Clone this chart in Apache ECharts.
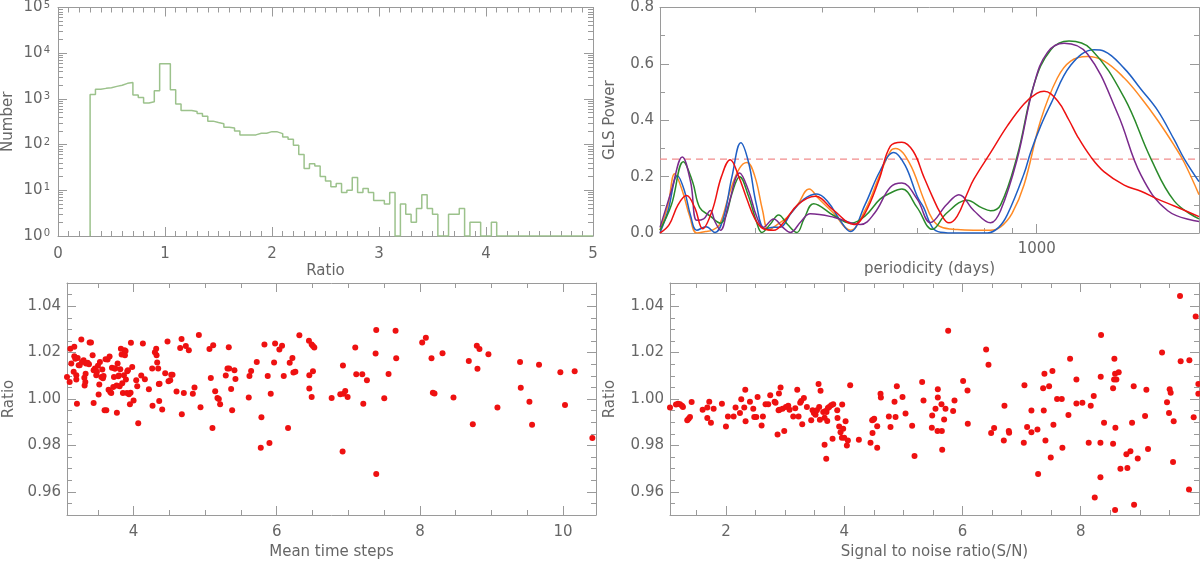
<!DOCTYPE html>
<html><head><meta charset="utf-8">
<script src="https://cdn.jsdelivr.net/npm/echarts@6/dist/echarts.min.js"></script>
<style>html,body{margin:0;padding:0;background:#fff}#c{width:1200px;height:562px}</style>
</head><body><div id="c"></div>
<script>
// ---------------- data ----------------
const binEdges = [0.30,0.35,0.40,0.45,0.50,0.55,0.60,0.65,0.70,0.75,0.80,0.85,0.90,0.95,1.00,1.05,1.10,1.15,1.20,1.25,1.30,1.35,1.40,1.45,1.50,1.55,1.60,1.65,1.70,1.75,1.80,1.85,1.90,1.95,2.00,2.05,2.10,2.15,2.20,2.25,2.30,2.35,2.40,2.45,2.50,2.55,2.60,2.65,2.70,2.75,2.80,2.85,2.90,2.95,3.00,3.05,3.10,3.15,3.20,3.25,3.30,3.35,3.40,3.45,3.50,3.55,3.60,3.65,3.70,3.75,3.80,3.85,3.90,3.95,4.00,4.05,4.10,4.15,4.20,4.25,4.30,4.35,4.40,4.45,4.50,4.55,4.60,4.65,4.70,4.75,4.80,4.85,4.90,4.95,5.00];
const binCounts = [1245,1630,1700,1760,1880,1990,2190,2290,1210,1070,810,870,1510,5900,5900,1590,770,560,560,530,477,418,326,305,287,241,230,199,163,162,163,177,177,192,190,174,147,131,97,61,30,38,34,20,16,12,14,9,10,19,9,11,9,6,6,5,9,0,5,3,2,4,8,4,3,0,0,3,3,4,0,2,2,0,0,2,0,0,0,0,0,0,0,0,0,0,0,0,0,0,0,0,0,0];

const glsThreshold = 0.262;
const glsPeriodRange = [200, 2000];
const glsRed = [[200,0.0],[208,0.03],[216,0.10],[224,0.133],[232,0.09],[240,0.015],[250,0.08],[260,0.20],[270,0.26],[280,0.20],[290,0.12],[300,0.05],[311,0.015],[325,0.01],[340,0.04],[360,0.10],[388,0.13],[420,0.08],[458,0.03],[480,0.07],[510,0.19],[535,0.308],[562,0.322],[590,0.29],[617,0.20],[640,0.13],[663,0.07],[687,0.036],[712,0.06],[743,0.14],[764,0.19],[821,0.285],[882,0.38],[947,0.458],[1000,0.495],[1032,0.503],[1092,0.47],[1148,0.40],[1190,0.343],[1260,0.27],[1334,0.217],[1453,0.17],[1561,0.148],[1676,0.12],[1800,0.096],[2000,0.058]];
const glsOrange = [[200,0.01],[207,0.10],[213,0.21],[220,0.15],[227,0.06],[234,0.0],[243,0.005],[250,0.01],[258,0.03],[270,0.15],[281,0.23],[290,0.25],[300,0.20],[310,0.08],[318,0.01],[330,0.03],[344,0.055],[360,0.10],[378,0.156],[395,0.12],[420,0.07],[451,0.01],[480,0.08],[510,0.20],[535,0.29],[547,0.30],[580,0.25],[617,0.12],[640,0.05],[663,0.022],[712,0.012],[764,0.01],[821,0.01],[857,0.022],[900,0.07],[947,0.17],[1017,0.40],[1092,0.55],[1156,0.61],[1242,0.626],[1334,0.61],[1453,0.55],[1561,0.48],[1676,0.40],[1800,0.31],[1878,0.25],[2000,0.136]];
const glsBlue = [[200,0.0],[207,0.08],[215.5,0.203],[222,0.15],[228,0.06],[234,0.01],[243.5,0.022],[253,0.002],[262,0.05],[272,0.20],[282.5,0.32],[292,0.25],[302,0.10],[313,0.015],[325,0.02],[334,0.02],[350,0.07],[370,0.12],[391,0.138],[410,0.11],[430,0.05],[451,0.005],[480,0.10],[512,0.22],[543,0.286],[570,0.24],[600,0.13],[617,0.09],[640,0.02],[663,0.003],[712,0.0],[810,0.0],[850,0.02],[882,0.065],[947,0.21],[974,0.286],[1017,0.38],[1062,0.458],[1156,0.595],[1278,0.65],[1334,0.645],[1453,0.584],[1561,0.51],[1676,0.435],[1800,0.33],[1878,0.263],[2000,0.182]];
const glsGreen = [[200,0.01],[210,0.10],[221,0.253],[230,0.18],[237,0.09],[248,0.06],[259,0.035],[265,0.06],[272,0.14],[281,0.20],[292,0.13],[302,0.04],[309,0.002],[320,0.03],[332,0.064],[345,0.03],[359,0.002],[370,0.05],[385.5,0.104],[420,0.062],[451,0.035],[480,0.06],[512,0.12],[535,0.142],[562,0.156],[600,0.09],[640,0.013],[680,0.07],[743,0.116],[790,0.09],[821,0.079],[857,0.10],[920,0.274],[988,0.526],[1062,0.65],[1148,0.681],[1260,0.653],[1453,0.48],[1629,0.263],[1800,0.113],[2000,0.05]];
const glsPurple = [[200,0.02],[210,0.15],[220,0.27],[228,0.18],[234,0.045],[241,0.05],[248,0.08],[253,0.04],[259,0.01],[268,0.10],[281,0.213],[292,0.15],[302,0.06],[311,0.02],[325,0.05],[338,0.02],[349,0.002],[365,0.04],[380,0.068],[420,0.056],[471,0.03],[500,0.07],[535,0.162],[562,0.177],[600,0.12],[635,0.037],[680,0.10],[717,0.136],[764,0.08],[821,0.036],[857,0.08],[920,0.263],[988,0.526],[1047,0.641],[1124,0.673],[1242,0.635],[1413,0.423],[1561,0.205],[1750,0.079],[2000,0.041]];

const stepsRatio = [[3.070,1.0095],[3.107,1.0073],[3.116,1.0217],[3.130,1.0153],[3.163,1.0117],[3.172,1.0225],[3.172,1.0184],[3.186,1.0174],[3.200,1.0084],[3.200,1.0102],[3.209,0.9980],[3.219,1.0177],[3.233,1.0145],[3.247,1.0145],[3.270,1.0256],[3.279,1.0160],[3.302,1.0167],[3.312,1.0092],[3.316,1.0058],[3.326,1.0073],[3.330,1.0109],[3.335,1.0153],[3.358,1.0156],[3.377,1.0150],[3.386,1.0243],[3.405,1.0243],[3.428,1.0189],[3.442,0.9983],[3.442,1.0124],[3.460,1.0131],[3.479,1.0102],[3.488,1.0117],[3.502,1.0143],[3.512,1.0019],[3.521,1.0062],[3.530,1.0160],[3.549,1.0095],[3.563,1.0127],[3.572,1.0089],[3.581,1.0099],[3.595,0.9951],[3.619,0.9951],[3.609,1.0171],[3.637,1.0170],[3.651,1.0040],[3.665,1.0183],[3.674,1.0030],[3.688,1.0026],[3.698,1.0135],[3.716,1.0052],[3.726,1.0095],[3.735,1.0132],[3.744,1.0131],[3.763,1.0058],[3.767,0.9941],[3.777,1.0153],[3.786,1.0098],[3.795,1.0101],[3.805,1.0055],[3.814,1.0128],[3.823,1.0217],[3.833,1.0192],[3.842,1.0068],[3.851,1.0026],[3.865,1.0102],[3.874,1.0210],[3.879,1.0189],[3.888,1.0207],[3.893,1.0084],[3.907,1.0026],[3.912,1.0120],[3.921,1.0124],[3.935,1.0020],[3.949,0.9977],[3.958,1.0027],[3.963,1.0242],[3.981,1.0138],[4.000,0.9993],[4.037,1.0081],[4.051,1.0055],[4.065,0.9896],[4.107,1.0101],[4.130,1.0239],[4.158,1.0085],[4.214,1.0042],[4.260,1.0131],[4.265,0.9971],[4.298,1.0202],[4.316,1.0217],[4.321,1.0189],[4.330,1.0157],[4.344,1.0131],[4.353,1.0065],[4.358,0.9991],[4.363,1.0066],[4.400,0.9955],[4.442,1.0111],[4.474,1.0248],[4.488,1.0076],[4.512,1.0081],[4.526,1.0104],[4.544,1.0105],[4.600,1.0032],[4.651,1.0220],[4.670,1.0259],[4.674,0.9934],[4.702,1.0026],[4.730,1.0228],[4.772,1.0210],[4.828,1.0023],[4.851,1.0050],[4.912,1.0276],[4.935,0.9964],[5.060,1.0215],[5.079,1.0091],[5.102,0.9875],[5.112,1.0232],[5.140,1.0033],[5.172,1.0004],[5.191,1.0000],[5.209,0.9977],[5.288,1.0101],[5.312,1.0132],[5.330,1.0223],[5.335,1.0131],[5.363,1.0043],[5.377,0.9951],[5.409,1.0124],[5.423,1.0086],[5.609,1.0006],[5.619,1.0099],[5.642,1.0121],[5.721,1.0160],[5.777,0.9790],[5.786,0.9921],[5.828,1.0235],[5.874,1.0099],[5.898,0.9810],[5.916,1.0023],[5.963,1.0157],[5.977,1.0239],[6.037,1.0213],[6.074,1.0230],[6.098,1.0099],[6.158,0.9875],[6.181,1.0156],[6.219,1.0177],[6.233,1.0114],[6.260,1.0117],[6.316,1.0275],[6.450,1.0251],[6.455,1.0102],[6.455,1.0045],[6.488,1.0235],[6.488,1.0009],[6.506,1.0120],[6.506,1.0228],[6.525,1.0222],[6.767,1.0004],[6.888,1.0020],[6.925,1.0144],[6.934,1.0023],[6.957,1.0035],[6.920,0.9774],[6.990,1.0009],[7.097,1.0222],[7.111,1.0107],[7.195,1.0107],[7.209,0.9980],[7.260,1.0081],[7.381,1.0196],[7.390,1.0297],[7.390,0.9677],[7.502,1.0003],[7.562,1.0108],[7.660,1.0294],[7.669,1.0176],[8.032,1.0243],[8.083,1.0264],[8.162,1.0176],[8.181,1.0027],[8.204,1.0024],[8.316,1.0197],[8.469,1.0007],[8.683,1.0164],[8.739,0.9891],[8.795,1.0230],[8.804,1.0130],[8.832,1.0215],[8.957,1.0193],[9.083,0.9963],[9.399,1.0160],[9.409,1.0048],[9.530,0.9988],[9.567,0.9889],[9.664,1.0148],[9.962,1.0115],[10.027,0.9974],[10.162,1.0120],[10.409,0.9832]];

const snrRatio = [[1.054,0.9963],[1.155,0.9976],[1.189,0.9980],[1.223,0.9977],[1.256,0.9971],[1.273,0.9965],[1.346,0.9908],[1.369,0.9915],[1.392,0.9922],[1.420,0.9987],[1.606,0.9954],[1.685,0.9963],[1.685,0.9918],[1.718,0.9988],[1.746,0.9898],[1.792,0.9958],[1.932,0.9980],[2.000,0.9882],[2.034,0.9925],[2.130,0.9925],[2.163,0.9963],[2.237,0.9940],[2.259,0.9999],[2.310,0.9963],[2.327,1.0040],[2.332,0.9904],[2.406,0.9988],[2.462,0.9958],[2.479,0.9922],[2.513,0.9922],[2.535,1.0009],[2.603,0.9886],[2.625,0.9925],[2.670,0.9977],[2.715,0.9977],[2.749,1.0016],[2.823,0.9988],[2.839,0.9984],[2.873,0.9847],[2.890,0.9951],[2.896,1.0024],[2.907,0.9954],[2.924,1.0050],[2.958,0.9958],[2.986,0.9862],[3.014,0.9965],[3.054,0.9971],[3.076,0.9954],[3.138,0.9925],[3.172,0.9960],[3.206,1.0040],[3.228,0.9925],[3.256,0.9984],[3.273,0.9991],[3.290,0.9891],[3.318,1.0004],[3.369,0.9965],[3.442,0.9908],[3.465,0.9951],[3.487,0.9940],[3.515,0.9932],[3.538,0.9951],[3.566,1.0065],[3.577,0.9965],[3.589,0.9911],[3.600,1.0036],[3.645,0.9944],[3.668,0.9803],[3.668,0.9919],[3.685,0.9948],[3.696,0.9742],[3.701,0.9944],[3.713,0.9905],[3.724,0.9961],[3.746,0.9965],[3.780,0.9973],[3.803,0.9829],[3.814,0.9977],[3.882,0.9951],[3.887,0.9918],[3.915,0.9882],[3.938,0.9857],[3.961,0.9833],[3.966,0.9976],[3.983,0.9872],[4.000,0.9833],[4.023,0.9904],[4.045,0.9800],[4.062,0.9821],[4.101,1.0059],[4.248,0.9824],[4.445,0.9811],[4.473,0.9908],[4.479,0.9853],[4.490,0.9911],[4.507,0.9915],[4.558,0.9883],[4.558,0.9790],[4.614,1.0023],[4.620,1.0006],[4.755,0.9925],[4.783,0.9879],[4.851,0.9988],[4.868,0.9922],[4.890,1.0055],[4.986,1.0009],[5.037,0.9937],[5.149,0.9885],[5.189,0.9754],[5.318,1.0073],[5.341,0.9994],[5.482,0.9876],[5.488,0.9929],[5.544,0.9958],[5.583,1.0042],[5.583,1.0006],[5.578,0.9862],[5.645,0.9977],[5.651,0.9862],[5.657,0.9781],[5.690,0.9912],[5.713,0.9958],[5.758,1.0294],[5.842,0.9948],[5.865,0.9994],[6.011,1.0078],[6.085,1.0037],[6.090,0.9893],[6.400,1.0213],[6.440,1.0148],[6.485,0.9853],[6.535,0.9875],[6.699,0.9821],[6.710,0.9971],[6.783,0.9862],[6.789,0.9855],[7.037,0.9811],[7.048,1.0059],[7.093,0.9879],[7.166,0.9950],[7.166,0.9857],[7.268,0.9869],[7.279,0.9677],[7.364,1.0046],[7.375,0.9950],[7.386,1.0109],[7.403,0.9821],[7.465,1.0055],[7.493,0.9748],[7.521,1.0121],[7.538,0.9889],[7.600,1.0000],[7.679,1.0000],[7.690,0.9790],[7.792,0.9931],[7.820,1.0173],[7.927,1.0084],[7.927,0.9981],[8.028,0.9984],[8.135,0.9811],[8.169,0.9971],[8.220,1.0013],[8.237,0.9575],[8.333,0.9663],[8.333,0.9811],[8.338,1.0096],[8.344,1.0276],[8.394,0.9898],[8.547,0.9807],[8.547,1.0046],[8.564,1.0084],[8.569,1.0173],[8.581,1.0109],[8.586,0.9876],[8.603,1.0084],[8.581,0.9522],[8.642,1.0115],[8.671,0.9699],[8.772,0.9762],[8.789,0.9703],[8.840,0.9775],[8.868,0.9898],[8.896,1.0055],[8.902,0.9544],[8.964,0.9744],[9.088,0.9927],[9.110,1.0040],[9.138,0.9785],[9.375,1.0200],[9.459,0.9986],[9.493,0.9940],[9.504,1.0042],[9.521,1.0027],[9.561,0.9728],[9.572,0.9904],[9.679,1.0444],[9.690,1.0163],[9.831,0.9610],[9.837,1.0167],[9.910,0.9921],[9.944,1.0356],[9.989,1.0065],[9.989,1.0023]];

// tick labels
const histXLabels = [0,1,2,3,4,5];
const histYLabels = [1,10,100,1000,10000,100000];
const glsXLabels = [1000];
const glsXMinor = [300,400,500,600,700,800,900];
const glsYLabels = [0,0.2,0.4,0.6,0.8];
const ratioYLabels = [0.96,0.98,1.00,1.02,1.04];
const stepsXLabels = [4,6,8,10];
const snrXLabels = [2,4,6,8];

// ---------------- helpers ----------------
const AX = '#9a9a9a', TXT = '#666', FONT = 'DejaVu Sans';
function steps(a, b, s) { const o = []; for (let v = a; v <= b + 1e-9; v += s) o.push(+v.toFixed(6)); return o; }
const logMinor = []; for (let d = 0; d < 5; d++) for (let k = 2; k <= 9; k++) logMinor.push(k * Math.pow(10, d));

function axisSet(dim, grid, c) {
  const near = dim === 'x' ? 'bottom' : 'left';
  const far = dim === 'x' ? 'top' : 'right';
  const base = {gridIndex: grid, type: c.type || 'value', min: c.min, max: c.max, splitLine: {show: false}, silent: true};
  if (c.type === 'log') base.logBase = 10;
  const tick = (vals, len) => ({show: true, inside: true, length: len, customValues: vals, lineStyle: {color: AX, width: 1}});
  const off = {show: false};
  const lab = {show: true, customValues: c.labels, margin: c.margin, color: TXT, fontSize: 15, fontFamily: FONT};
  if (c.fmt) lab.formatter = c.fmt;
  if (c.rich) lab.rich = c.rich;
  return [
    Object.assign({}, base, {position: near, axisLine: {show: true, onZero: false, lineStyle: {color: AX, width: 1}}, axisTick: tick(c.major, 9), axisLabel: lab,
      name: c.name, nameLocation: 'middle', nameGap: c.nameGap, nameTextStyle: {color: TXT, fontSize: 15, fontFamily: FONT}}),
    Object.assign({}, base, {position: near, axisLine: {show: false, onZero: false}, axisTick: tick(c.minor, 5), axisLabel: off}),
    Object.assign({}, base, {position: far, axisLine: {show: true, onZero: false, lineStyle: {color: AX, width: 1}}, axisTick: tick(c.major, 9), axisLabel: off}),
    Object.assign({}, base, {position: far, axisLine: {show: false, onZero: false}, axisTick: tick(c.minor, 5), axisLabel: off})
  ];
}

const grids = [
  {left: 58, top: 4, width: 535, height: 232},
  {left: 660, top: 1, width: 539, height: 232},
  {left: 67, top: 283, width: 529, height: 232},
  {left: 670, top: 283, width: 529, height: 232}
];

const xAxes = [].concat(
  axisSet('x', 0, {min: 0, max: 5, labels: histXLabels, major: histXLabels, minor: steps(0, 5, 0.1), margin: 11, name: 'Ratio', nameGap: 28}),
  axisSet('x', 1, {type: 'log', min: 200, max: 2000, labels: glsXLabels, major: glsXLabels, minor: glsXMinor, margin: 9, fmt: v => String(Math.round(v)), name: 'periodicity (days)', nameGap: 29}),
  axisSet('x', 2, {min: 3.07, max: 10.46, labels: stepsXLabels, major: stepsXLabels, minor: steps(3.5, 10.5, 0.5), margin: 10, fmt: v => String(Math.round(v)), name: 'Mean time steps', nameGap: 30}),
  axisSet('x', 3, {min: 1.054, max: 10.0, labels: snrXLabels, major: snrXLabels, minor: steps(1.5, 10, 0.5), margin: 10, fmt: v => String(Math.round(v)), name: 'Signal to noise ratio(S/N)', nameGap: 30})
);
const yAxes = [].concat(
  axisSet('y', 0, {type: 'log', min: 1, max: 100000, labels: histYLabels, major: histYLabels, minor: logMinor, margin: 8,
    fmt: v => '{b|10}{s|' + Math.round(Math.log10(v)) + '}',
    rich: {b: {fontSize: 15, color: TXT, fontFamily: FONT, verticalAlign: 'bottom'}, s: {fontSize: 10, color: TXT, fontFamily: FONT, verticalAlign: 'top', padding: [0, 0, 0, 1]}},
    name: 'Number', nameGap: 42}),
  axisSet('y', 1, {min: 0, max: 0.8, labels: glsYLabels, major: glsYLabels, minor: steps(0, 0.8, 0.1), margin: 6, fmt: v => v.toFixed(1), name: 'GLS Power', nameGap: 42}),
  axisSet('y', 2, {min: 0.95, max: 1.05, labels: ratioYLabels, major: ratioYLabels, minor: steps(0.95, 1.05, 0.005), margin: 6, fmt: v => v.toFixed(2), name: 'Ratio', nameGap: 50}),
  axisSet('y', 3, {min: 0.95, max: 1.05, labels: ratioYLabels, major: ratioYLabels, minor: steps(0.95, 1.05, 0.005), margin: 6, fmt: v => v.toFixed(2), name: 'Ratio', nameGap: 52})
);

// histogram step outline (zero counts sit on the 10^0 floor of the log axis)
const histPoints = [[binEdges[0], 1]];
binCounts.forEach((c, i) => histPoints.push([binEdges[i], Math.max(c, 1)]));
histPoints.push([binEdges[binEdges.length - 1], Math.max(binCounts[binCounts.length - 1], 1)]);

function glsLine(data, color) {
  return {type: 'line', xAxisIndex: 4, yAxisIndex: 4, data: data, smooth: 0.4, symbol: 'none', lineStyle: {color: color, width: 1.5}, silent: true};
}

const option = {
  animation: false,
  textStyle: {fontFamily: FONT},
  grid: grids,
  xAxis: xAxes,
  yAxis: yAxes,
  series: [
    {type: 'line', xAxisIndex: 0, yAxisIndex: 0, data: histPoints, step: 'end', symbol: 'none', lineStyle: {color: '#9cc28c', width: 1.5}, silent: true},
    {type: 'line', xAxisIndex: 4, yAxisIndex: 4, data: glsPeriodRange.map(p => [p, glsThreshold]), symbol: 'none', silent: true,
     lineStyle: {color: '#f28c8c', type: [7, 5], width: 1.2}},
    glsLine(glsOrange, '#ff8a24'),
    glsLine(glsBlue, '#1f5fc4'),
    glsLine(glsGreen, '#2a8a2a'),
    glsLine(glsPurple, '#7a2a8c'),
    glsLine(glsRed, '#ee1111'),
    {type: 'scatter', xAxisIndex: 8, yAxisIndex: 8, data: stepsRatio, symbol: 'circle', symbolSize: 6, itemStyle: {color: '#ee1111', opacity: 1}, silent: true},
    {type: 'scatter', xAxisIndex: 12, yAxisIndex: 12, data: snrRatio, symbol: 'circle', symbolSize: 6, itemStyle: {color: '#ee1111', opacity: 1}, silent: true}
  ]
};
const chart = echarts.init(document.getElementById('c'), null, {renderer: 'canvas'});
chart.setOption(option);
</script></body></html>
